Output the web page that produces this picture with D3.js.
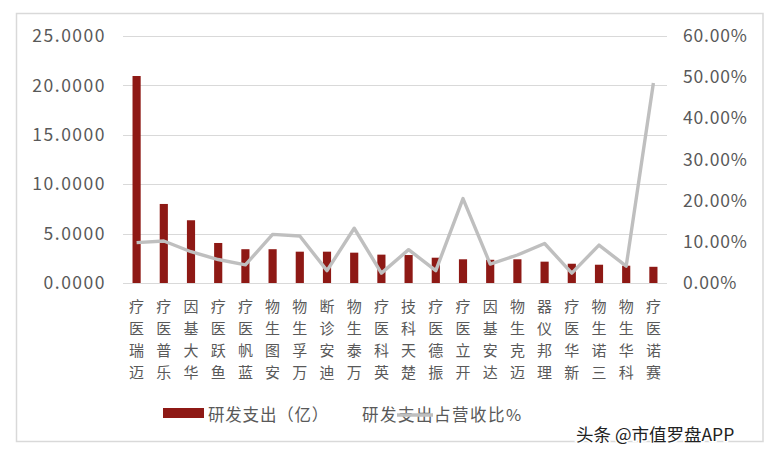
<!DOCTYPE html>
<html><head><meta charset="utf-8">
<script src="https://cdn.jsdelivr.net/npm/d3@7"></script>
<style>body{margin:0;background:#fff}svg{display:block}</style>
</head><body>
<svg id="c" width="774" height="456"></svg>
<script>
const categories = ["迈瑞医疗","乐普医疗","华大基因","鱼跃医疗","蓝帆医疗","安图生物","万孚生物","迪安诊断","万泰生物","英科医疗","楚天科技","振德医疗","开立医疗","达安基因","迈克生物","理邦仪器","新华医疗","三诺生物","科华生物","赛诺医疗"];
const rdSpend = [20.95,8.0,6.35,4.05,3.42,3.42,3.17,3.17,3.07,2.87,2.83,2.56,2.4,2.35,2.4,2.16,1.95,1.85,1.75,1.64];
const rdRatio = [0.098,0.102,0.076,0.057,0.044,0.118,0.114,0.030,0.133,0.024,0.081,0.030,0.205,0.046,0.068,0.096,0.024,0.092,0.041,0.486];
const leftTicks = [0,5,10,15,20,25];
const rightTicks = [0,0.1,0.2,0.3,0.4,0.5,0.6];
const legendLabels = ["研发支出（亿）","研发支出占营收比%"];
const watermark = "头条 @市值罗盘APP";

const svg = d3.select("#c");
const font = "'Noto Sans CJK SC','Noto Sans',sans-serif";
const barColor = "#8E1915", lineColor = "#BFBFBF", textColor = "#595959";

svg.append("rect").attr("x",16.5).attr("y",13.5).attr("width",746.5).attr("height",428)
  .attr("fill","#fff").attr("stroke","#D9D9D9").attr("stroke-width",1.5);

const x = d3.scaleBand().domain(categories).range([123,667]).paddingInner(0.7).paddingOuter(0.35);
const yL = d3.scaleLinear().domain([0,25]).range([283,36]);
const yR = d3.scaleLinear().domain([0,0.6]).range([283,36]);

// gridlines
svg.append("g").selectAll("line").data(leftTicks).join("line")
  .attr("x1",123).attr("x2",667).attr("y1",d=>Math.round(yL(d))+0.5).attr("y2",d=>Math.round(yL(d))+0.5)
  .attr("stroke","#D9D9D9").attr("stroke-width",1.2);

// left axis
const axL = svg.append("g").attr("transform","translate(106,0)")
  .call(d3.axisLeft(yL).tickValues(leftTicks).tickSize(0).tickPadding(0).tickFormat(d=>d3.format(".4f")(d)));
axL.select(".domain").remove();
axL.selectAll("text").attr("font-family",font).attr("font-size",17.5).attr("fill",textColor).attr("letter-spacing",1.5);

// right axis
const axR = svg.append("g").attr("transform","translate(683,0)")
  .call(d3.axisRight(yR).tickValues(rightTicks).tickSize(0).tickPadding(0).tickFormat(d=>d3.format(".2%")(d)));
axR.select(".domain").remove();
axR.selectAll("text").attr("font-family",font).attr("font-size",17.5).attr("fill",textColor).attr("letter-spacing",0.8);

// bars
svg.append("g").selectAll("rect").data(categories).join("rect")
  .attr("x",d=>x(d)).attr("width",x.bandwidth())
  .attr("y",(d,i)=>yL(rdSpend[i])).attr("height",(d,i)=>yL(0)-yL(rdSpend[i]))
  .attr("fill",barColor);

// line
const line = d3.line().x(d=>x(d[0])+x.bandwidth()/2).y(d=>yR(d[1]));
svg.append("path").datum(categories.map((c,i)=>[c,rdRatio[i]]))
  .attr("d",line).attr("fill","none").attr("stroke",lineColor).attr("stroke-width",3.4).attr("stroke-linejoin","round");

// category labels: stacked upright chars, reading bottom to top
const lab = svg.append("g");
categories.forEach(c=>{
  const t = lab.append("text").attr("text-anchor","middle")
    .attr("font-family",font).attr("font-size",15).attr("fill",textColor);
  Array.from(c).forEach((ch,i)=>{
    t.append("tspan").attr("x",x(c)+x.bandwidth()/2).attr("y",371.5 - i*22)
      .attr("dominant-baseline","central").text(ch);
  });
});

// legend
svg.append("rect").attr("x",163).attr("y",408).attr("width",41).attr("height",10).attr("fill",barColor);
svg.append("text").attr("x",208).attr("y",414).attr("dominant-baseline","central")
  .attr("font-family",font).attr("font-size",16.5).attr("fill",textColor).attr("letter-spacing",0.8).text(legendLabels[0]);
svg.append("text").attr("x",362).attr("y",414).attr("dominant-baseline","central")
  .attr("font-family",font).attr("font-size",16.5).attr("fill",textColor).attr("letter-spacing",1.5).text(legendLabels[1]);
svg.append("line").attr("x1",397).attr("x2",433).attr("y1",415).attr("y2",415)
  .attr("stroke",lineColor).attr("stroke-width",3.4);

// watermark
svg.append("text").attr("x",576).attr("y",433).attr("dominant-baseline","central")
  .attr("font-family",font).attr("font-size",17.5).attr("fill","#222")
  .attr("stroke","#fff").attr("stroke-width",3).attr("paint-order","stroke").text(watermark);
</script>
</body></html>
